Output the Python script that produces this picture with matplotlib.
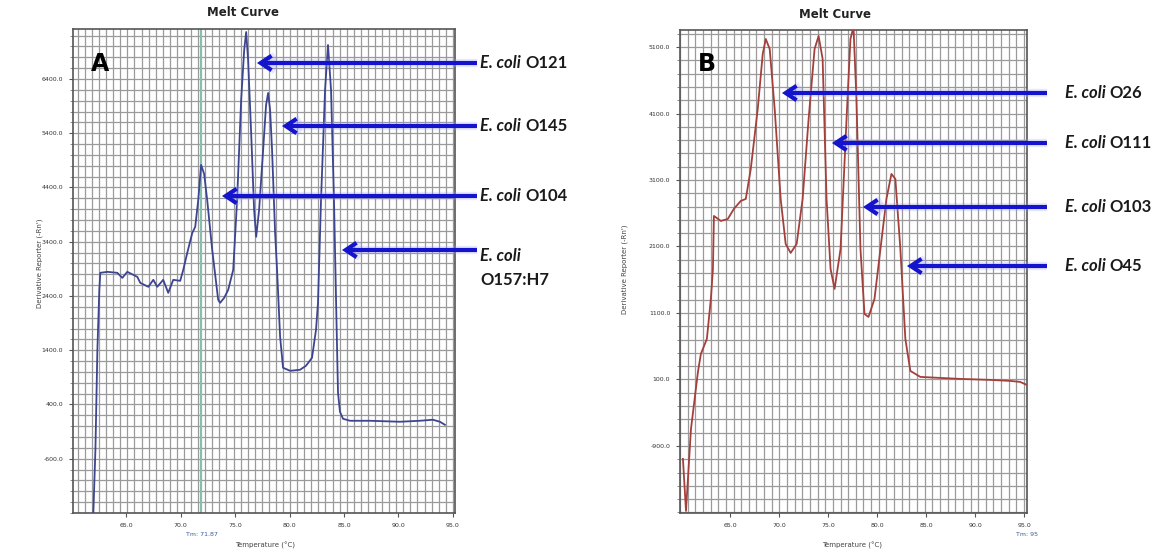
import numpy as np
import matplotlib
matplotlib.use("Agg")
import matplotlib.pyplot as plt
from matplotlib.patches import FancyArrowPatch

# ---- melt curve data: panel A (O121 / O145 / O104 / O157:H7) ----
temp_a = [61.97, 62.16, 62.34, 62.52, 62.61, 63.26, 64.17, 64.63, 65.09, 65.64,
          66.01, 66.28, 67.02, 67.48, 67.84, 68.39, 68.85, 69.31, 69.95, 70.23,
          70.60, 71.06, 71.33, 71.61, 71.87, 72.15, 72.43, 72.89, 73.44, 73.62, 73.99,
          74.36, 74.82, 75.18, 75.55, 75.83, 76.01, 76.19, 76.47, 76.74, 76.93,
          77.20, 77.57, 77.84, 78.03, 78.21, 78.39, 78.67, 78.85, 79.13, 79.40,
          80.05, 80.96, 81.51, 82.06, 82.43, 82.61, 82.89, 83.26, 83.53, 83.81,
          84.08, 84.27, 84.45, 84.63, 84.91, 85.55, 87.39, 90.14, 91.97, 93.17,
          93.81, 94.27]
deriv_a = [-1600, -434, 1408, 2513, 2827, 2845, 2827, 2734, 2845, 2790,
           2753, 2642, 2569, 2698, 2569, 2698, 2458, 2698, 2679, 2882,
           3196, 3563, 3674, 4171, 4816, 4650, 4171, 3250, 2329, 2274, 2366,
           2513, 2882, 4171, 6013, 6934, 7266, 6750, 5405, 3987, 3490,
           3987, 5092, 5921, 6142, 5829, 5092, 3563, 2882, 1648, 1077,
           1021, 1040, 1114, 1261, 1777, 2274, 4171, 6197, 7026, 6197,
           4171, 2329, 616, 266, 137, 100, 100, 82, 100, 119,
           82, 26]
tm_a = 71.87

# ---- melt curve data: panel B (O26 / O111 / O103 / O45) ----
temp_b = [60.20, 60.51, 61.02, 61.73, 62.03, 62.64, 63.05, 63.26, 63.36, 64.07,
          64.78, 65.39, 66.10, 66.61, 67.12, 67.83, 68.34, 68.65, 69.05, 69.56,
          70.17, 70.68, 71.19, 71.80, 72.41, 73.02, 73.63, 74.04, 74.45, 74.85,
          75.26, 75.67, 76.28, 76.89, 77.29, 77.60, 77.90, 78.31, 78.72, 79.13,
          79.74, 80.35, 80.96, 81.47, 81.87, 82.38, 82.89, 83.40, 84.42, 86.45,
          88.48, 91.54, 93.57, 94.59, 95.30]
deriv_b = [-1096, -1878, -644, 213, 484, 709, 1311, 1762, 2559, 2484,
           2514, 2664, 2785, 2815, 3266, 4168, 4996, 5221, 5071, 4168,
           2815, 2138, 2003, 2138, 2815, 4018, 5071, 5266, 4921, 2815,
           1762, 1461, 2063, 4018, 5221, 5402, 4319, 2063, 1085, 1040,
           1311, 2063, 2815, 3191, 3116, 2063, 709, 228, 138, 123,
           108, 93, 78, 63, 17]
tm_b_label = "Tm: 95"

# ---- axis tick values ----
xticks = [65.0, 70.0, 75.0, 80.0, 85.0, 90.0, 95.0]
yticks_a = [-600.0, 400.0, 1400.0, 2400.0, 3400.0, 4400.0, 5400.0, 6400.0]
yticks_b = [-900.0, 100.0, 1100.0, 2100.0, 3100.0, 4100.0, 5100.0]

# ---- serogroup labels (text, y position in pixels from top, arrow tip x) ----
labels_a = [("O121", 63, 257), ("O145", 126, 282), ("O104", 196, 222), ("O157:H7", 250, 342)]
labels_b = [("O26", 93, 782), ("O111", 143, 832), ("O103", 207, 863), ("O45", 266, 907)]

W, H = 1162, 554
fig = plt.figure(figsize=(W / 100, H / 100), dpi=100)
fig.patch.set_facecolor("white")


def fx(px):
    return px / W


def fy(py):
    return 1 - py / H


def make_axes(left, right, top, bottom):
    return fig.add_axes([fx(left), fy(bottom), (right - left) / W, (bottom - top) / H])


def style_axes(ax, xlim, ylim, yticks, y_base, xstep):
    ax.set_xlim(*xlim)
    ax.set_ylim(*ylim)
    ax.set_xticks(xticks)
    ax.set_xticklabels([f"{t:.1f}" for t in xticks])
    ax.set_yticks(yticks)
    ax.set_yticklabels([f"{t:.1f}" for t in yticks])
    # graph-paper grid
    xs = np.arange(95.0, xlim[0] - 1, -xstep)
    ys = np.arange(y_base - 2000, ylim[1] + 1, 200)
    for x in xs:
        ax.axvline(x, color="#9a9a9a", lw=0.9, zorder=1)
    for y in ys:
        ax.axhline(y, color="#9a9a9a", lw=0.9, zorder=1)
    ax.set_yticks(ys, minor=True)
    ax.tick_params(axis="both", which="major", labelsize=4.5, length=3,
                   width=0.8, colors="#555555", labelcolor="#333333", pad=4)
    ax.tick_params(axis="y", which="minor", length=2, width=0.6, colors="#777777")
    for s in ax.spines.values():
        s.set_color("#555555")
        s.set_linewidth(1.2)


# ---------------- panel A ----------------
axA = make_axes(73, 455, 29, 513)
style_axes(axA, (60.1, 95.2), (-1594, 7321), yticks_a, 400, 0.65)
axA.axvline(tm_a, color="#86bfae", lw=1.6, zorder=2)
axA.plot(temp_a, deriv_a, color="#3d4590", lw=1.3, zorder=3, clip_on=True)

# ---------------- panel B ----------------
axB = make_axes(680, 1027, 30, 513)
style_axes(axB, (59.9, 95.3), (-1909, 5356), yticks_b, 100, 0.78)
axB.plot(temp_b, deriv_b, color="#a3403c", lw=1.3, zorder=3, clip_on=True)

# titles, axis labels and Tm readouts
for cx, tx_y in ((243, 13), (835, 14)):
    fig.text(fx(cx), fy(tx_y), "Melt Curve", ha="center", va="center",
             fontsize=8.5, fontweight="bold", color="#222222")
for cx in (265, 852):
    fig.text(fx(cx), fy(545), "Temperature (°C)", ha="center", va="center",
             fontsize=5, color="#444444")
for lx, cy in ((40, 263), (625, 269)):
    fig.text(fx(lx), fy(cy), "Derivative Reporter (-Rn')", ha="center", va="center",
             rotation=90, fontsize=5, color="#444444")
fig.text(fx(202), fy(535), "Tm: 71.87", ha="center", va="center", fontsize=4.5, color="#3a5a9a")
fig.text(fx(1027), fy(535), tm_b_label, ha="center", va="center", fontsize=4.5, color="#3a5a9a")

# panel letters
fig.text(fx(100), fy(64), "A", ha="center", va="center", fontsize=17,
         fontweight="bold", color="black", family="DejaVu Sans")
fig.text(fx(707), fy(64), "B", ha="center", va="center", fontsize=17,
         fontweight="bold", color="black", family="DejaVu Sans")


def arrow(x_tail, x_tip, y):
    # faint halo under the arrow, then the arrow itself
    for lw, col, al in ((6, "#a0a0ff", 0.25), (3.0, "#1414cc", 1.0)):
        a = FancyArrowPatch((fx(x_tail), fy(y)), (fx(x_tip), fy(y)),
                            transform=fig.transFigure,
                            arrowstyle="->,head_length=0.6,head_width=0.4",
                            mutation_scale=13, lw=lw, color=col, alpha=al,
                            shrinkA=0, shrinkB=0, capstyle="butt", joinstyle="miter")
        fig.add_artist(a)


renderer = fig.canvas.get_renderer()


def label(x, y, name, split=False):
    font = dict(fontsize=12, fontweight="bold", family=["Lato", "DejaVu Sans"], color="#1a1a1a")
    t1 = fig.text(fx(x), fy(y), "E. coli", style="italic", va="center", ha="left", **font)
    if split:
        fig.text(fx(x), fy(y + 24), name, va="center", ha="left", **font)
    else:
        bb = t1.get_window_extent(renderer)
        fig.text(bb.x1 / W + 4 / W, fy(y), name, va="center", ha="left", **font)


for name, y, tip in labels_a:
    arrow(477, tip, y)
    if name == "O157:H7":
        label(480, 256, name, split=True)
    else:
        label(480, y, name)

for name, y, tip in labels_b:
    arrow(1047, tip, y)
    label(1065, y, name)

fig.savefig("out.png", dpi=100, facecolor="white")
